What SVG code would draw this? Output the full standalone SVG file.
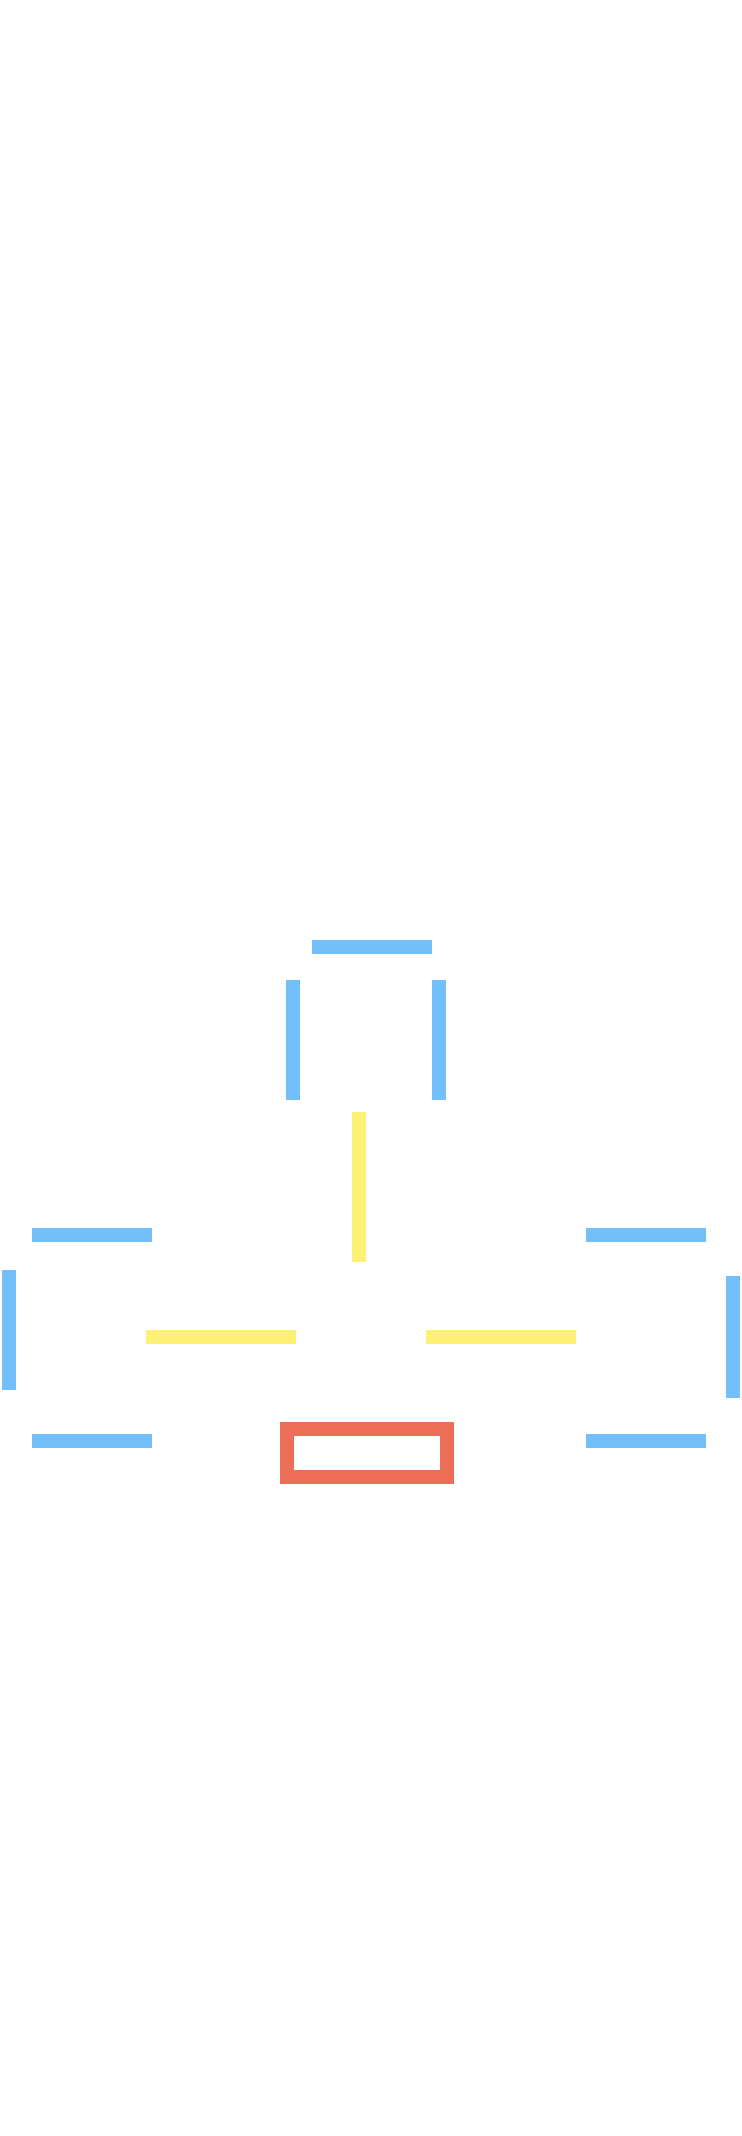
<svg xmlns="http://www.w3.org/2000/svg" width="742" height="2136" viewBox="0 0 742 2136">
<style>
.b{fill:#73bff9}
.y{fill:#fcf174}
.r{fill:none;stroke:#ec6e57;stroke-width:14}
</style>
<rect width="742" height="2136" fill="#ffffff"/>
<g id="blue">
<rect class="b" x="312" y="940" width="120" height="14"/>
<rect class="b" x="286" y="980" width="14" height="120"/>
<rect class="b" x="432" y="980" width="14" height="120"/>
<rect class="b" x="32" y="1228" width="120" height="14"/>
<rect class="b" x="586" y="1228" width="120" height="14"/>
<rect class="b" x="2" y="1270" width="14" height="120"/>
<rect class="b" x="726" y="1276" width="14" height="122"/>
<rect class="b" x="32" y="1434" width="120" height="14"/>
<rect class="b" x="586" y="1434" width="120" height="14"/>
</g>
<g id="yellow">
<rect class="y" x="352" y="1112" width="14" height="150"/>
<rect class="y" x="146" y="1330" width="150" height="14"/>
<rect class="y" x="426" y="1330" width="150" height="14"/>
</g>
<g id="red">
<rect class="r" x="287" y="1429" width="160" height="48"/>
</g>
</svg>
